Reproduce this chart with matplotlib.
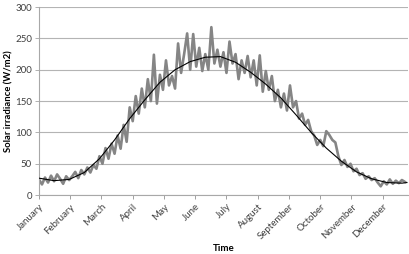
import numpy as np
import matplotlib
matplotlib.use('Agg')
import matplotlib.pyplot as plt

plt.rcParams['font.family'] = ['Lato', 'DejaVu Sans']

# measured irradiance, read every 3 days (day of year)
days = np.arange(0, 364, 3)
irradiance = [
    25, 17, 28, 20, 31, 22, 33, 26, 18, 30, 24,
    30, 37, 27, 40, 33, 44, 36, 48, 42, 62,
    50, 75, 58, 82, 66, 95, 74, 112, 85, 140,
    118, 158, 130, 170, 140, 185, 150, 224, 146, 192,
    168, 215, 175, 190, 170, 242, 195, 225, 258, 200,
    257, 205, 235, 198, 225, 200, 268, 210, 232, 205,
    228, 195, 245, 210, 225, 185, 215, 195, 222, 188,
    215, 175, 223, 165, 198, 168, 190, 150, 168, 140,
    162, 135, 175, 140, 150, 122, 130, 112, 120, 102,
    95, 80, 88, 78, 102, 96, 88, 84, 62, 48,
    56, 45, 50, 38, 42, 32, 35, 26, 30, 24,
    27, 20, 14, 22, 17, 25, 18, 23, 19, 24, 21,
]

# fitted trend curve
fit_days = [0, 15, 30, 45, 60, 75, 90, 105, 120, 135, 150, 165, 180,
            195, 210, 225, 240, 255, 270, 285, 300, 315, 330, 345, 360, 365]
fit_vals = [27, 23, 25, 36, 58, 88, 122, 152, 180, 200, 213, 220, 221,
            212, 196, 177, 155, 128, 100, 75, 54, 37, 26, 20, 19, 20]

months = ['January', 'February', 'March', 'April', 'May', 'June', 'July',
          'August', 'September', 'October', 'November', 'December']
month_ticks = np.arange(12) * 31

fig = plt.figure(figsize=(4.10, 2.54), dpi=100)
ax = fig.add_axes([0.095, 0.232, 0.9, 0.74])

ax.plot(days, irradiance, color='#858585', lw=1.9, zorder=2)
ax.plot(fit_days, fit_vals, color='black', lw=0.8, zorder=3)

ax.set_xlim(0, 366)
ax.set_ylim(0, 300)
ax.set_yticks(np.arange(0, 301, 50))
ax.set_xticks(month_ticks)
ax.set_xticklabels(months, rotation=45, ha='right', va='top', rotation_mode='anchor')
ax.tick_params(axis='both', labelsize=7, colors='#404040', length=3, width=0.7)
ax.tick_params(axis='x', pad=2, color='#a0a0a0')
ax.tick_params(axis='y', pad=2, color='#b0b0b0')
ax.grid(axis='y', color='#b4b4b4', lw=0.8)
ax.set_axisbelow(True)
for s in ['top', 'right']:
    ax.spines[s].set_visible(False)
for s in ['left', 'bottom']:
    ax.spines[s].set_color('#a8a8a8')
    ax.spines[s].set_linewidth(0.8)

ax.set_xlabel('Time', fontsize=7, fontweight='bold', labelpad=2)
ax.set_ylabel('Solar irradiance (W/m2)', fontsize=6.8, fontweight='bold', labelpad=1)

fig.savefig('out.png', dpi=100)
